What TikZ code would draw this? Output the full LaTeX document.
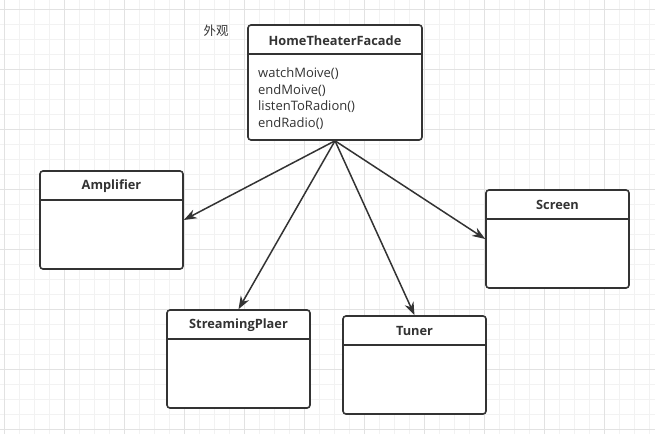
\documentclass[tikz,border=0pt]{standalone}
\usepackage{fontspec}
\setmainfont{Open Sans}
\newfontfamily\cjk{Noto Sans CJK SC}
\usetikzlibrary{arrows.meta}
\definecolor{ink}{HTML}{333333}
\definecolor{gridminor}{HTML}{F2F2F2}
\definecolor{gridmajor}{HTML}{E2E2E2}

\begin{document}
\begin{tikzpicture}[x=1pt,y=-1pt,>={Stealth[length=13pt,width=9.5pt]},
        classbox/.style={draw=ink,line width=1.6pt,rounded corners=3pt,fill=white,
          minimum width=143pt,minimum height=98pt,inner sep=0pt},
        classtitle/.style={font=\fontsize{12.8}{14}\selectfont\bfseries,text=ink},
        link/.style={->,draw=ink,line width=1.5pt}]
        \useasboundingbox[fill=white] (0,0) rectangle (655,434);

        % draw the background grid
        \foreach \k in {0,...,43}
            \pgfmathsetmacro{\gx}{4+15*\k}
            \draw[line width=0.8pt,draw=gridminor] (\gx,0) -- (\gx,434);
        \foreach \k in {0,...,28}
            \pgfmathsetmacro{\gy}{9.3+15*\k}
            \draw[line width=0.8pt,draw=gridminor] (0,\gy) -- (655,\gy);
        \foreach \k in {0,...,10}
            \draw[line width=0.8pt,draw=gridmajor] (4+60*\k,0) -- (4+60*\k,434);
        \foreach \k in {0,...,7}
            \draw[line width=0.8pt,draw=gridmajor] (0,9.3+60*\k) -- (655,9.3+60*\k);

        % the facade class
        \node[classbox,minimum width=174pt,minimum height=115pt] (fac) at (335,82.5) {};
        \node[classtitle] at ([yshift=-16pt]fac.north) {HomeTheaterFacade};
        \draw[draw=ink,line width=1.6pt] ([yshift=-30pt]fac.north west) -- ([yshift=-30pt]fac.north east);
        \node[anchor=north west,inner sep=0pt,align=left,text=ink,
              font=\fontsize{13}{16.5}\selectfont] (ops) at (258,67.5)
            {watchMoive()\\endMoive()\\listenToRadion()\\endRadio()};
        \node[text=ink,font=\cjk\fontsize{12.5}{14}\selectfont] (lbl) at (216,31) {外观};

        % the subsystem classes
        \foreach \nm/\cx/\cy/\ttl in {amp/111.5/220/Amplifier, sp/238.5/359/StreamingPlaer,
                                      tun/414.5/365/Tuner, scr/557.5/239/Screen}
        {
            \node[classbox] (\nm) at (\cx,\cy) {};
            \node[classtitle] at ([yshift=-16pt]\nm.north) {\ttl};
            \draw[draw=ink,line width=1.6pt] ([yshift=-30pt]\nm.north west) -- ([yshift=-30pt]\nm.north east);
        }

        % facade uses every subsystem
        \draw[link] (fac.south) -- (amp.east);
        \draw[link] (fac.south) -- (sp.north);
        \draw[link] (fac.south) -- (tun.north);
        \draw[link] (fac.south) -- (scr.west);
\end{tikzpicture}
\end{document}
